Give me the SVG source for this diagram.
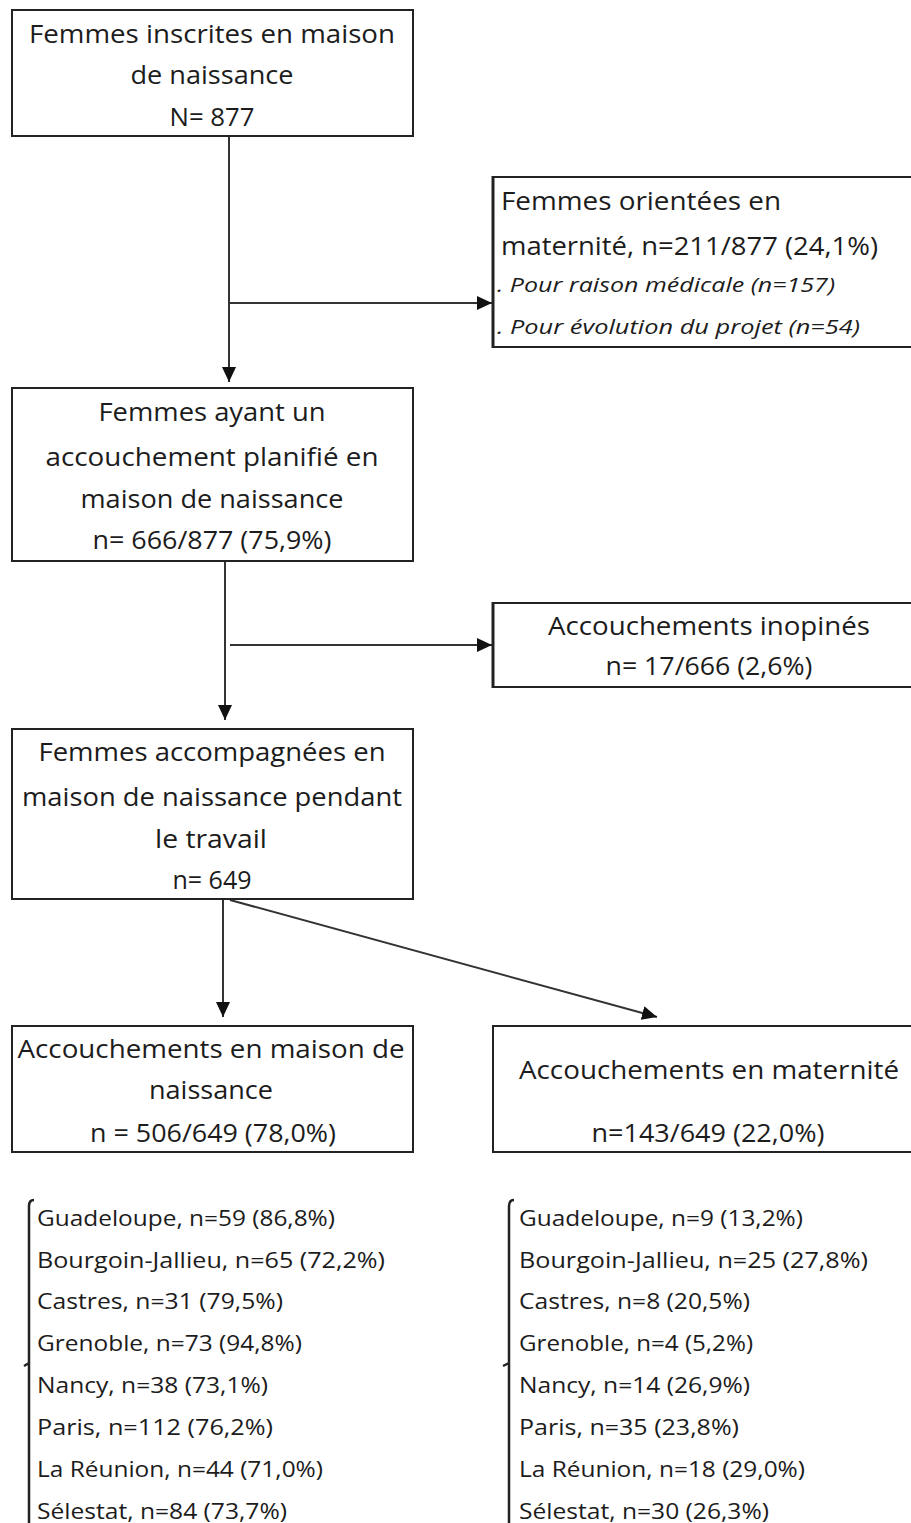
<svg xmlns="http://www.w3.org/2000/svg" width="911" height="1523" viewBox="0 0 911 1523">
<defs>
<style>
.box{fill:#ffffff;stroke:#222;stroke-width:2}
.edge{fill:#111;stroke:#222;stroke-width:3}
.t{font-family:"Open Sans","Liberation Sans",sans-serif;font-size:25px;fill:#1c1c1c}
.c{text-anchor:middle}
.it{font-style:italic;font-size:20px}
.ls{font-family:"Open Sans","Liberation Sans",sans-serif;font-size:21px;fill:#1c1c1c}
.con{fill:none;stroke:#333;stroke-width:2}
.br{fill:none;stroke:#222;stroke-width:2.5}
</style>
<marker id="ah" markerUnits="userSpaceOnUse" markerWidth="16" markerHeight="14" refX="15" refY="7" orient="auto">
<path d="M0,0 L15,7 L0,14 z" fill="#111"/>
</marker>
</defs>

<g id="connectors">
<line class="con" x1="229" y1="136" x2="229" y2="382" marker-end="url(#ah)"/>
<line class="con" x1="229" y1="303" x2="492" y2="303" marker-end="url(#ah)"/>
<line class="con" x1="225" y1="561" x2="225" y2="720" marker-end="url(#ah)"/>
<line class="con" x1="230" y1="645" x2="492" y2="645" marker-end="url(#ah)"/>
<line class="con" x1="223" y1="899" x2="223" y2="1017" marker-end="url(#ah)"/>
<line class="con" x1="230" y1="900" x2="657" y2="1017" marker-end="url(#ah)"/>
</g>

<g id="n1">
<rect class="box" x="12" y="10" width="401" height="126"/>
<text class="t c" x="212" y="43" textLength="366" lengthAdjust="spacingAndGlyphs">Femmes inscrites en maison</text>
<text class="t c" x="212" y="84" textLength="163" lengthAdjust="spacingAndGlyphs">de naissance</text>
<text class="t c" x="212" y="126" textLength="85" lengthAdjust="spacingAndGlyphs">N= 877</text>
</g>

<g id="n2">
<rect class="box" x="493" y="177" width="440" height="170"/>
<line class="edge" x1="493" y1="176" x2="493" y2="348"/>
<text class="t" x="501" y="210" textLength="280" lengthAdjust="spacingAndGlyphs">Femmes orientées en</text>
<text class="t" x="501" y="255" textLength="377" lengthAdjust="spacingAndGlyphs">maternité, n=211/877 (24,1%)</text>
<text class="t it" x="497" y="292" textLength="338" lengthAdjust="spacingAndGlyphs">. Pour raison médicale (n=157)</text>
<text class="t it" x="497" y="334" textLength="363" lengthAdjust="spacingAndGlyphs">. Pour évolution du projet (n=54)</text>
</g>

<g id="n3">
<rect class="box" x="12" y="388" width="401" height="173"/>
<text class="t c" x="212" y="421" textLength="227" lengthAdjust="spacingAndGlyphs">Femmes ayant un</text>
<text class="t c" x="212" y="466" textLength="333" lengthAdjust="spacingAndGlyphs">accouchement planifié en</text>
<text class="t c" x="212" y="508" textLength="263" lengthAdjust="spacingAndGlyphs">maison de naissance</text>
<text class="t c" x="212" y="549" textLength="239" lengthAdjust="spacingAndGlyphs">n= 666/877 (75,9%)</text>
</g>

<g id="n4">
<rect class="box" x="493" y="603" width="440" height="84"/>
<line class="edge" x1="493" y1="602" x2="493" y2="688"/>
<text class="t c" x="709" y="635" textLength="322" lengthAdjust="spacingAndGlyphs">Accouchements inopinés</text>
<text class="t c" x="709" y="675" textLength="207" lengthAdjust="spacingAndGlyphs">n= 17/666 (2,6%)</text>
</g>

<g id="n5">
<rect class="box" x="12" y="729" width="401" height="170"/>
<text class="t c" x="212" y="761" textLength="347" lengthAdjust="spacingAndGlyphs">Femmes accompagnées en</text>
<text class="t c" x="212" y="806" textLength="380" lengthAdjust="spacingAndGlyphs">maison de naissance pendant</text>
<text class="t c" x="211" y="848" textLength="112" lengthAdjust="spacingAndGlyphs">le travail</text>
<text class="t c" x="212" y="889" textLength="79" lengthAdjust="spacingAndGlyphs">n= 649</text>
</g>

<g id="n6">
<rect class="box" x="12" y="1026" width="401" height="126"/>
<text class="t c" x="211" y="1058" textLength="387" lengthAdjust="spacingAndGlyphs">Accouchements en maison de</text>
<text class="t c" x="211" y="1099" textLength="124" lengthAdjust="spacingAndGlyphs">naissance</text>
<text class="t c" x="213" y="1142" textLength="246" lengthAdjust="spacingAndGlyphs">n = 506/649 (78,0%)</text>
</g>

<g id="n7">
<rect class="box" x="493" y="1026" width="440" height="126"/>
<text class="t c" x="709" y="1079" textLength="380" lengthAdjust="spacingAndGlyphs">Accouchements en maternité</text>
<text class="t c" x="708" y="1142" textLength="233" lengthAdjust="spacingAndGlyphs">n=143/649 (22,0%)</text>
</g>

<g id="n8">
<path class="br" d="M34,1200 Q29,1200 29,1206 L29,1523 M29,1363 L24,1366"/>
<text class="ls" x="37" y="1226" textLength="298" lengthAdjust="spacingAndGlyphs">Guadeloupe, n=59 (86,8%)</text>
<text class="ls" x="37" y="1268" textLength="348" lengthAdjust="spacingAndGlyphs">Bourgoin-Jallieu, n=65 (72,2%)</text>
<text class="ls" x="37" y="1309" textLength="246" lengthAdjust="spacingAndGlyphs">Castres, n=31 (79,5%)</text>
<text class="ls" x="37" y="1351" textLength="265" lengthAdjust="spacingAndGlyphs">Grenoble, n=73 (94,8%)</text>
<text class="ls" x="37" y="1393" textLength="231" lengthAdjust="spacingAndGlyphs">Nancy, n=38 (73,1%)</text>
<text class="ls" x="37" y="1435" textLength="236" lengthAdjust="spacingAndGlyphs">Paris, n=112 (76,2%)</text>
<text class="ls" x="37" y="1477" textLength="286" lengthAdjust="spacingAndGlyphs">La Réunion, n=44 (71,0%)</text>
<text class="ls" x="37" y="1519" textLength="250" lengthAdjust="spacingAndGlyphs">Sélestat, n=84 (73,7%)</text>
</g>

<g id="n9">
<path class="br" d="M514,1200 Q509,1200 509,1206 L509,1523 M509,1363 L503,1366"/>
<text class="ls" x="519" y="1226" textLength="284" lengthAdjust="spacingAndGlyphs">Guadeloupe, n=9 (13,2%)</text>
<text class="ls" x="519" y="1268" textLength="349" lengthAdjust="spacingAndGlyphs">Bourgoin-Jallieu, n=25 (27,8%)</text>
<text class="ls" x="519" y="1309" textLength="231" lengthAdjust="spacingAndGlyphs">Castres, n=8 (20,5%)</text>
<text class="ls" x="519" y="1351" textLength="234" lengthAdjust="spacingAndGlyphs">Grenoble, n=4 (5,2%)</text>
<text class="ls" x="519" y="1393" textLength="231" lengthAdjust="spacingAndGlyphs">Nancy, n=14 (26,9%)</text>
<text class="ls" x="519" y="1435" textLength="220" lengthAdjust="spacingAndGlyphs">Paris, n=35 (23,8%)</text>
<text class="ls" x="519" y="1477" textLength="286" lengthAdjust="spacingAndGlyphs">La Réunion, n=18 (29,0%)</text>
<text class="ls" x="519" y="1519" textLength="250" lengthAdjust="spacingAndGlyphs">Sélestat, n=30 (26,3%)</text>
</g>
</svg>
